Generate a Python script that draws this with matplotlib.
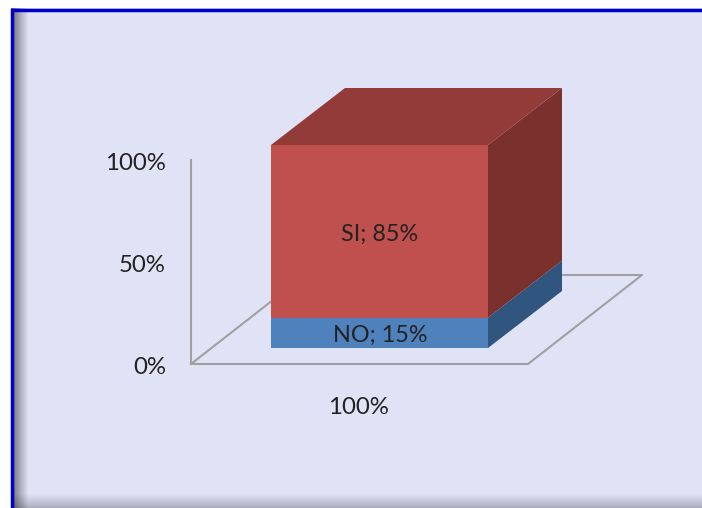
import matplotlib
matplotlib.use('Agg')
import matplotlib.pyplot as plt
import numpy as np

plt.rcParams['font.family'] = ['Lato', 'DejaVu Sans']

# datos
categorias = ['NO', 'SI']
valores = [15, 85]
colores_frente = ['#4f81bd', '#c0504d']
colores_lado = ['#30557f', '#7a312e']
colores_arriba = ['#3c6494', '#933b38']
ticks = [0, 50, 100]
etiqueta_x = '100%'

fig = plt.figure(figsize=(7.02, 5.08), dpi=100)
ax = fig.add_axes([0, 0, 1, 1])
ax.set_xlim(0, 702)
ax.set_ylim(508, 0)
ax.axis('off')

# fondo con sombra a la izquierda y abajo
alto, ancho = 508, 702
xx, yy = np.meshgrid(np.arange(ancho), np.arange(alto))
base = np.array([224, 226, 246]) / 255
sombra_izq = 0.5 + 0.5 * np.clip((xx - 13) / 15, 0, 1) ** 0.8
sombra_abajo = 0.76 + 0.24 * np.clip((507 - yy) / 14, 0, 1) ** 0.8
k = sombra_izq * sombra_abajo
img = base[None, None, :] * k[:, :, None]
ax.imshow(img, extent=(0, 702, 508, 0), aspect='auto', zorder=0, interpolation='nearest')
ax.add_patch(plt.Rectangle((0, 0), 702, 8, color='white', zorder=1, lw=0))
ax.add_patch(plt.Rectangle((0, 0), 10.5, 508, color='white', zorder=1, lw=0))
ax.plot([12.2, 12.2, 702], [508, 9.6, 9.6], color='#0000c8', lw=2.5, zorder=2, solid_joinstyle='miter')

# escalas del grafico
y_eje0, y_eje100 = 364, 160
y_bar0, y_bar100 = 348, 145
x_izq, x_der = 271, 488
dx, dy = 74, -57


def y_eje(v):
    return y_eje0 + (y_eje100 - y_eje0) * v / 100


def y_bar(v):
    return y_bar0 + (y_bar100 - y_bar0) * v / 100


# piso y eje
gris = '#a0a0a0'
ax.plot([191, 191], [y_eje(100), y_eje(0)], color=gris, lw=1.5, zorder=3)
ax.plot([191, 528, 642, 305, 191], [364, 364, 275, 275, 364], color=gris, lw=1.5, zorder=3)
for t in ticks:
    ax.text(166, y_eje(t) + 3, f'{t}%', ha='right', va='center', fontsize=17.3, color='#222222', zorder=6)
ax.text(358.5, 407, etiqueta_x, ha='center', va='center', fontsize=17.3, color='#222222', zorder=6)

# barras apiladas
acum = 0
for cat, val, cf, cl, ca in zip(categorias, valores, colores_frente, colores_lado, colores_arriba):
    y1, y2 = y_bar(acum), y_bar(acum + val)
    ax.fill([x_izq, x_der, x_der, x_izq], [y1, y1, y2, y2], color=cf, lw=0, zorder=4)
    ax.fill([x_der, x_der + dx, x_der + dx, x_der], [y1, y1 + dy, y2 + dy, y2], color=cl, lw=0, zorder=4)
    ax.text((x_izq + x_der) / 2 + 0.5, (y1 + y2) / 2 + 3, f'{cat}; {val}%', ha='center', va='center',
            fontsize=16.8, color='#222222', zorder=6)
    acum += val
# cara superior
y_top = y_bar(acum)
ax.fill([x_izq, x_der, x_der + dx, x_izq + dx], [y_top, y_top, y_top + dy, y_top + dy],
        color=colores_arriba[-1], lw=0, zorder=4)

fig.savefig('out.png', dpi=100)
